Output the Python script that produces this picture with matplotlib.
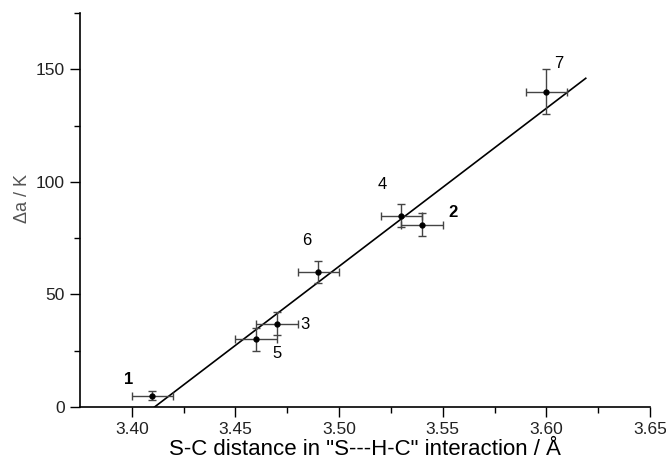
import matplotlib.pyplot as plt
import numpy as np

plt.rcParams['font.family'] = ['Liberation Sans', 'DejaVu Sans']

# data points (S-C distance, delta a)
labels = ["1", "2", "3", "4", "5", "6", "7"]
dist = [3.41, 3.54, 3.47, 3.53, 3.46, 3.49, 3.60]
delta = [5, 81, 37, 85, 30, 60, 140]
dist_err = [0.01, 0.01, 0.01, 0.01, 0.01, 0.01, 0.01]
delta_err = [2, 5, 5, 5, 5, 5, 10]

# fitted line end points
fit_x = [3.411, 3.619]
fit_y = [0, 146]

# label positions
lab_x = [3.3987, 3.555, 3.4835, 3.521, 3.470, 3.4843, 3.606]
lab_y = [12.4, 86.3, 36.7, 99, 23.9, 73.9, 152.6]
lab_bold = [True, True, False, False, False, False, False]

fig = plt.figure(figsize=(6.66, 4.59), dpi=100)
ax = fig.add_axes([0.120, 0.1133, 0.856, 0.8584])

ax.plot(fit_x, fit_y, color='black', lw=1.2)
ax.errorbar(dist, delta, xerr=dist_err, yerr=delta_err, fmt='o', ms=3.5,
            color='black', ecolor='#444444', elinewidth=1, capsize=3, capthick=1)

for t, x, y, b in zip(labels, lab_x, lab_y, lab_bold):
    ax.text(x, y, t, fontsize=12, ha='center', va='center',
            fontweight='bold' if b else 'normal')

ax.set_xlim(3.375, 3.65)
ax.set_ylim(0, 175)
ax.set_xticks(np.arange(3.40, 3.651, 0.05))
ax.set_xticks(np.arange(3.425, 3.65, 0.05), minor=True)
ax.set_yticks([0, 50, 100, 150])
ax.set_yticks([25, 75, 125, 175], minor=True)
ax.xaxis.set_major_formatter(plt.FormatStrFormatter('%.2f'))

for s in ['top', 'right']:
    ax.spines[s].set_visible(False)
ax.spines['left'].set_linewidth(1.2)
ax.spines['bottom'].set_linewidth(1.2)
ax.tick_params(which='major', length=7, width=1, labelsize=12.5,
               labelcolor='#222222', pad=4)
ax.tick_params(which='minor', length=4, width=1)

ax.set_xlabel('S-C distance in "S---H-C" interaction / Å', fontsize=16, labelpad=1)
ax.set_ylabel('Δa / K', fontsize=13, color='#555555')
ax.yaxis.set_label_coords(-0.085, 0.53)

plt.savefig('out.png', dpi=100)
